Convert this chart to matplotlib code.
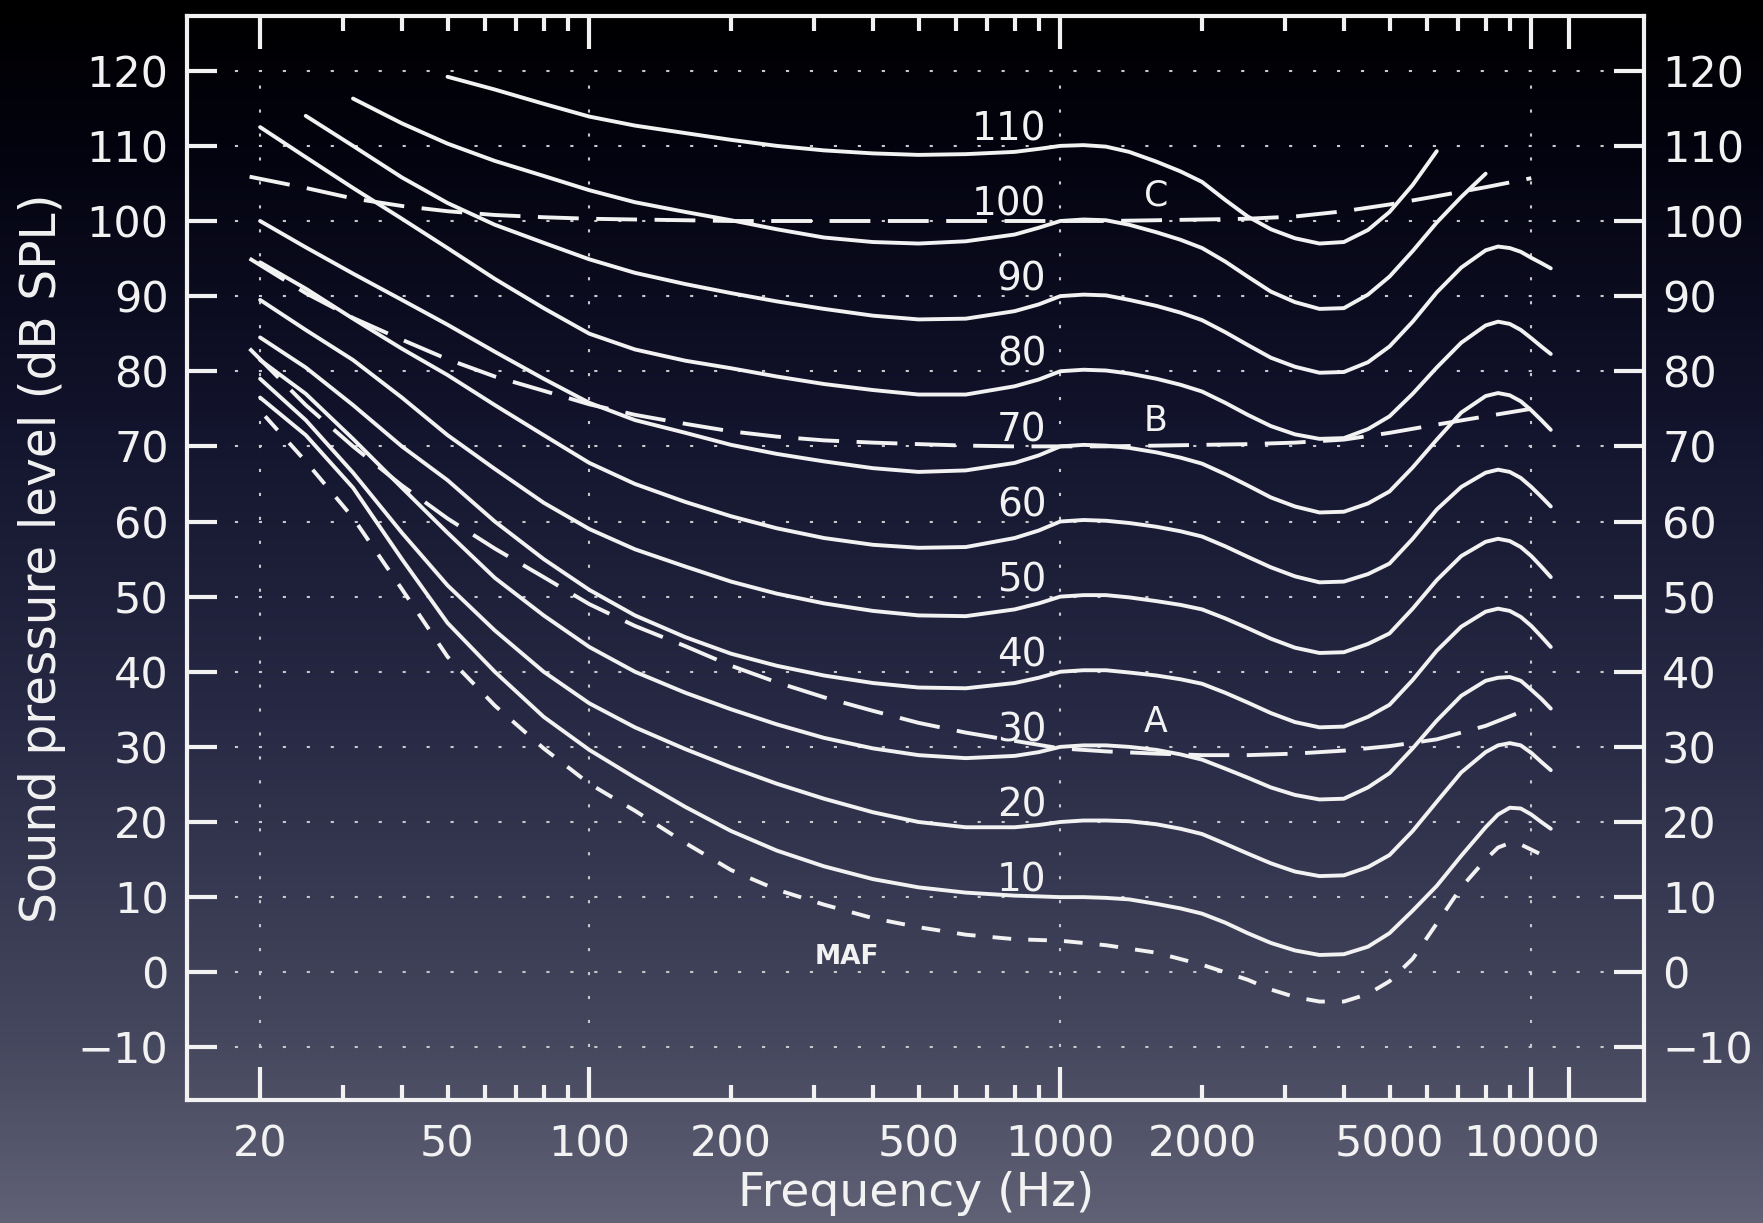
import matplotlib
matplotlib.use('Agg')
import matplotlib.pyplot as plt
from matplotlib.colors import LinearSegmentedColormap
from matplotlib.ticker import FixedLocator, FuncFormatter
import numpy as np

nan = np.nan

# equal-loudness contours (dB SPL)
freqs = [20, 25, 31.5, 40, 50, 63, 80, 100, 125, 160, 200, 250, 315, 400, 500, 630,
         800, 900, 1000, 1120, 1250, 1400, 1600, 1800, 2000, 2240, 2500, 2800, 3150, 3550,
         4000, 4500, 5000, 5600, 6300, 7100, 8000, 8500, 9000, 9500, 10000, 10500, 11000]

phon_10 = [76.5, 71.5, 64.5, 55, 46.5, 40, 34, 29.6, 25.9, 22.0, 18.8, 16.2, 14.1, 12.4, 11.3, 10.6,
           10.2, 10.1, 10, 10.0, 9.9, 9.7, 9.1, 8.5, 7.8, 6.6, 5.2, 3.9, 2.9, 2.3,
           2.4, 3.4, 5.2, 8.2, 11.5, 15.5, 19.3, 21.0, 21.9, 21.8, 21.0, 20.0, 19.1]
phon_20 = [79, 73.5, 66.5, 58.5, 51.5, 45.5, 40, 35.8, 32.6, 29.7, 27.3, 25.1, 23.1, 21.3, 20.0, 19.3,
           19.3, 19.6, 20, 20.2, 20.2, 20.1, 19.7, 19.1, 18.4, 17.1, 15.8, 14.5, 13.4, 12.8,
           12.9, 14.0, 15.6, 18.8, 22.7, 26.6, 29.3, 30.2, 30.5, 30.2, 29.2, 28.0, 26.9]
phon_30 = [81.5, 77, 71, 64.5, 58.5, 52.5, 47.5, 43.3, 40.0, 37.2, 35.0, 33.0, 31.2, 29.8, 28.9, 28.5,
           28.8, 29.3, 30, 30.2, 30.2, 30.0, 29.6, 29.0, 28.3, 27.1, 25.9, 24.6, 23.6, 23.0,
           23.1, 24.6, 26.5, 29.8, 33.5, 36.8, 38.8, 39.2, 39.3, 38.8, 37.6, 36.4, 35.1]
phon_40 = [84.5, 80.5, 75.5, 70, 65.5, 60, 55, 50.9, 47.5, 44.6, 42.4, 40.8, 39.5, 38.5, 37.9, 37.8,
           38.5, 39.2, 40, 40.2, 40.2, 39.9, 39.5, 39.0, 38.4, 37.2, 35.9, 34.5, 33.3, 32.6,
           32.7, 34.0, 35.6, 38.9, 42.8, 46.0, 48.0, 48.4, 48.1, 47.3, 46.1, 44.7, 43.3]
phon_50 = [89.5, 85.5, 81.5, 76.5, 71.5, 67, 62.5, 59, 56.3, 54.0, 52.0, 50.4, 49.1, 48.1, 47.5, 47.4,
           48.3, 49.1, 50, 50.2, 50.2, 49.9, 49.4, 48.9, 48.3, 47.1, 45.8, 44.4, 43.2, 42.5,
           42.6, 43.7, 45.1, 48.4, 52.2, 55.4, 57.3, 57.7, 57.4, 56.6, 55.4, 54.0, 52.6]
phon_60 = [94.5, 91, 87, 83, 79.5, 75.5, 71.5, 67.8, 65.0, 62.6, 60.7, 59.1, 57.8, 56.9, 56.5, 56.6,
           57.8, 58.8, 60, 60.2, 60.1, 59.8, 59.3, 58.7, 58.0, 56.7, 55.3, 53.9, 52.7, 51.9,
           52.0, 53.0, 54.4, 57.7, 61.6, 64.6, 66.5, 66.9, 66.6, 65.8, 64.6, 63.3, 62.0]
phon_70 = [100, 96.5, 93, 89.5, 86.2, 82.6, 79.0, 75.8, 73.5, 71.8, 70.2, 69.0, 68.0, 67.1, 66.6, 66.8,
           67.8, 68.8, 70, 70.2, 70.1, 69.8, 69.2, 68.5, 67.7, 66.3, 64.8, 63.2, 62.0, 61.2,
           61.3, 62.4, 64.0, 67.2, 70.9, 74.5, 76.7, 77.1, 76.8, 76.0, 74.8, 73.5, 72.2]
phon_80 = [112.5, 108.5, 104.4, 100.3, 96.4, 92.3, 88.4, 85.0, 82.9, 81.4, 80.4, 79.3, 78.3, 77.5, 76.9, 76.9,
           78.0, 78.9, 80, 80.2, 80.1, 79.7, 79.0, 78.2, 77.3, 75.8, 74.2, 72.7, 71.6, 71.0,
           71.1, 72.3, 74.0, 77.0, 80.5, 83.8, 86.1, 86.6, 86.3, 85.5, 84.4, 83.3, 82.3]
phon_90 = [nan, 114, 110, 105.8, 102.4, 99.5, 97.1, 94.9, 93.1, 91.6, 90.4, 89.3, 88.3, 87.4, 86.9, 87.0,
           88.0, 88.9, 90, 90.2, 90.1, 89.5, 88.7, 87.8, 86.8, 85.2, 83.5, 81.8, 80.6, 79.8,
           79.9, 81.2, 83.3, 86.6, 90.5, 93.8, 96.1, 96.6, 96.4, 95.9, 95.1, 94.4, 93.7]
phon_100 = [nan, nan, 116.3, 113, 110.3, 108, 106, 104.1, 102.5, 101.2, 100.1, 98.9, 97.8, 97.2, 97.0, 97.3,
            98.2, 99.1, 100, 100.2, 100.1, 99.5, 98.5, 97.5, 96.4, 94.6, 92.6, 90.6, 89.2, 88.3,
            88.4, 90.2, 92.6, 96.0, 99.8, 103.2, 106.3, nan, nan, nan, nan, nan, nan]
phon_110 = [nan, nan, nan, nan, 119.2, 117.5, 115.6, 113.9, 112.7, 111.7, 110.8, 110.0, 109.4, 109.0, 108.8, 108.9,
            109.2, 109.6, 110, 110.1, 109.9, 109.2, 107.9, 106.6, 105.2, 102.8, 100.6, 98.9, 97.7, 97.0,
            97.2, 98.8, 101.2, 104.8, 109.3, nan, nan, nan, nan, nan, nan, nan, nan]
phon_levels = [10, 20, 30, 40, 50, 60, 70, 80, 90, 100, 110]

# minimum audible field
maf_freqs = [20.5, 25, 31.5, 40, 50, 63, 80, 100, 125, 160, 200, 250, 315, 400, 500, 630,
             800, 1000, 1250, 1600, 2000, 2500, 2800, 3150, 3550, 4000, 4500, 5000, 5600,
             6300, 7100, 8000, 8500, 9000, 9500, 10400]
maf = [74.0, 68, 60.5, 51, 42, 35.5, 29.8, 25.1, 21.5, 17.2, 13.6, 11, 9, 7.2, 6.0, 5.0,
       4.4, 4.2, 3.6, 2.6, 1.0, -1.0, -2.3, -3.3, -3.9, -3.9, -2.9, -1.2, 1.8,
       6.5, 11.3, 15.0, 16.6, 17.2, 17.0, 15.8]

# inverted weighting networks A, B, C
wfreqs = [19, 25, 31.5, 40, 50, 63, 80, 100, 125, 160, 200, 250, 315, 400, 500, 630,
          800, 1000, 1250, 1600, 2000, 2500, 3150, 4000, 5000, 6300, 8000, 10000]
weight_a = [83.0, 75.5, 70.0, 64.8, 60.4, 56.4, 52.6, 49.0, 46.1, 43.4, 40.8, 38.6, 36.6, 34.8,
            33.2, 31.9, 30.8, 29.8, 29.4, 29.1, 28.9, 28.9, 29.1, 29.5, 30.1, 31.0, 32.8, 35.2]
weight_b = [95.0, 90.4, 87.1, 84.2, 81.6, 79.3, 77.4, 75.6, 74.2, 73.0, 72.0, 71.3, 70.8, 70.5,
            70.3, 70.1, 70.0, 70.0, 70.0, 70.1, 70.2, 70.3, 70.5, 70.9, 71.8, 72.9, 74.0, 75.0]
weight_c = [105.9, 104.4, 103.0, 102.0, 101.3, 100.8, 100.5, 100.3, 100.2, 100.1, 100.0, 100.0,
            100.0, 100.0, 100.0, 100.0, 100.0, 100.0, 100.0, 100.1, 100.2, 100.3, 100.6, 101.3,
            102.2, 103.3, 104.5, 105.7]

yticks = list(range(-10, 121, 10))
xlabels = {20: '20', 50: '50', 100: '100', 200: '200', 500: '500', 1000: '1000',
           2000: '2000', 5000: '5000', 10000: '10000'}

fg = '#f2f2f2'
plt.rcParams['font.family'] = ['DejaVu Sans']

fig = plt.figure(figsize=(17.63, 12.23), dpi=100)

# background gradient
bg = fig.add_axes([0, 0, 1, 1], zorder=0)
cmap = LinearSegmentedColormap.from_list(
    'bg', [(0, '#000000'), (0.12, '#03030f'), (0.35, '#13142d'),
           (0.6, '#292b46'), (0.85, '#45475e'), (1, '#606175')])
bg.imshow(np.linspace(0, 1, 256)[:, None], aspect='auto', cmap=cmap)
bg.axis('off')

ax = fig.add_axes([0.1059, 0.1006, 0.8266, 0.8867], zorder=1)
ax.set_facecolor('none')
ax.set_xscale('log')
ax.set_xlim(13.97, 17350)
ax.set_ylim(-17.0, 127.35)

# dotted grid
for y in yticks:
    ax.axhline(y, color='#c8c8cc', lw=1.5, ls=(0, (1.5, 10)), zorder=1)
ax.vlines([20, 100, 1000, 10000], -10, 120, color='#c8c8cc', lw=1.5,
          ls=(0, (1.5, 10)), zorder=1)

curves = [phon_10, phon_20, phon_30, phon_40, phon_50, phon_60,
          phon_70, phon_80, phon_90, phon_100, phon_110]
for vals in curves:
    ax.plot(freqs, vals, color=fg, lw=2.8, solid_capstyle='round',
            solid_joinstyle='round', zorder=3)

ax.plot(maf_freqs, maf, color=fg, lw=2.8, ls=(0, (4.8, 4.4)), zorder=3)
for w in (weight_a, weight_b, weight_c):
    ax.plot(wfreqs, w, color=fg, lw=2.8, ls=(0, (10.5, 4.5)), zorder=3)

for p in phon_levels:
    ax.text(935, p + 0.7, str(p), color=fg, fontsize=28, ha='right', va='baseline', zorder=4)
for name, lev in (('C', 100), ('B', 70), ('A', 30)):
    ax.text(1595, lev + 2.0, name, color=fg, fontsize=25, ha='center', va='baseline', zorder=4)
ax.text(352, 1.1, 'MAF', color=fg, fontsize=19, fontweight='bold',
        ha='center', va='baseline', zorder=4)

# axes frame and ticks
for s in ax.spines.values():
    s.set_color(fg)
    s.set_linewidth(3)

ax.yaxis.set_major_locator(FixedLocator(yticks))
ax.xaxis.set_major_locator(FixedLocator([20, 100, 1000, 10000, 12000]))
ax.xaxis.set_minor_locator(FixedLocator([30, 40, 50, 60, 70, 80, 90,
                                         200, 300, 400, 500, 600, 700, 800, 900,
                                         2000, 3000, 4000, 5000, 6000, 7000, 8000, 9000]))
fmt = FuncFormatter(lambda v, pos: xlabels.get(int(round(v)), ''))
ax.xaxis.set_major_formatter(fmt)
ax.xaxis.set_minor_formatter(fmt)

ax.tick_params(axis='y', which='major', direction='in', length=21.5, width=3,
               left=True, right=True, labelleft=True, labelright=True,
               labelsize=31, pad=13, colors=fg)
ax.tick_params(axis='x', which='major', direction='in', length=24, width=3,
               top=True, bottom=True, labelsize=31, pad=17, colors=fg)
ax.tick_params(axis='x', which='minor', direction='in', length=11, width=3,
               top=True, bottom=True, labelsize=31, pad=17, colors=fg)

fig.text(0.024, 0.5435, 'Sound pressure level (dB SPL)', color=fg, fontsize=35,
         rotation=90, ha='center', va='center')
fig.text(0.5195, 0.024, 'Frequency (Hz)', color=fg, fontsize=34, ha='center', va='center')

fig.savefig('out.png', dpi=100)
